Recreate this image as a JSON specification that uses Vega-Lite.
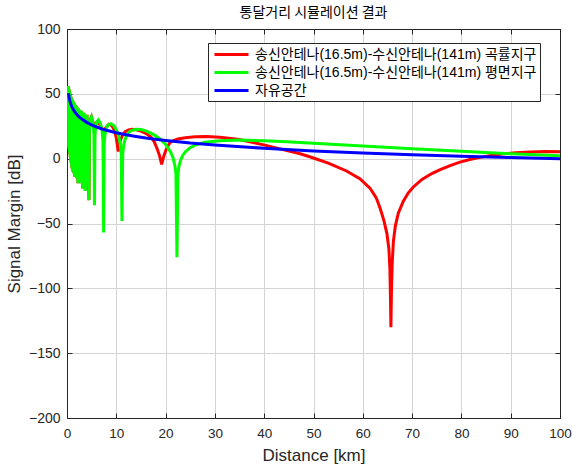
{
  "$schema": "https://vega.github.io/schema/vega-lite/v6.json",
  "width": 493,
  "height": 389,
  "autosize": "none",
  "padding": {"left": 67, "top": 29, "right": 12, "bottom": 49},
  "title": {"text": "통달거리 시뮬레이션 결과", "fontSize": 14, "fontWeight": "normal", "font": "Noto Sans CJK KR", "color": "#000000", "offset": 2},
  "config": {
    "view": {"stroke": "#262626", "strokeWidth": 1},
    "axis": {"labelFont": "Liberation Sans", "labelColor": "#262626", "labelFlush": false, "titleFont": "Liberation Sans", "titleFontSize": 17, "titleFontWeight": "normal", "titleColor": "#262626", "domainColor": "#262626", "tickColor": "#262626", "gridColor": "#d4d4d4", "gridOpacity": 1, "gridWidth": 1},
    "legend": {"labelFont": "Liberation Sans, Noto Sans CJK KR", "labelFontSize": 14, "labelColor": "#000000", "labelLimit": 500}
  },
  "datasets": {
    "red": [
      {"d":0.27,"v":50},{"d":0.31,"v":56},{"d":0.35,"v":9},{"d":0.39,"v":54},{"d":0.43,"v":7},{"d":0.47,"v":52.5},{"d":0.51,"v":5},{"d":0.55,"v":51},{"d":0.59,"v":3},{"d":0.63,"v":50},{"d":0.67,"v":1},{"d":0.71,"v":49},{"d":0.75,"v":-1},{"d":0.79,"v":48},{"d":0.83,"v":-3},{"d":0.87,"v":47.2},{"d":0.91,"v":-5},{"d":0.95,"v":46.4},{"d":0.99,"v":-7},{"d":1.037,"v":45.7},{"d":1.062,"v":-8},{"d":1.088,"v":45.3},{"d":1.115,"v":-9},{"d":1.144,"v":44.8},{"d":1.174,"v":-9},{"d":1.206,"v":44.4},{"d":1.239,"v":-10},{"d":1.274,"v":43.9},{"d":1.312,"v":-10},{"d":1.352,"v":43.4},{"d":1.394,"v":-11},{"d":1.439,"v":42.8},{"d":1.487,"v":-12},{"d":1.538,"v":42.3},{"d":1.593,"v":-14},{"d":1.652,"v":41.6},{"d":1.715,"v":-13},{"d":1.784,"v":41},{"d":1.858,"v":-14},{"d":1.939,"v":40.3},{"d":2.027,"v":-15},{"d":2.124,"v":39.5},{"d":2.23,"v":-19},{"d":2.347,"v":38.6},{"d":2.478,"v":-17},{"d":2.624,"v":37.6},{"d":2.788,"v":-19},{"d":2.973,"v":36.5},{"d":3.186,"v":-23},{"d":3.431,"v":35.3},{"d":3.717,"v":-25},{"d":4.055,"v":33.9},{"d":4.46,"v":-32},{"d":4.55,"v":22.6},{"d":4.7,"v":29.7},{"d":4.96,"v":32.1},{"d":5.3,"v":27.2},
      {"d":5.6,"v":27},{"d":6.0,"v":28},{"d":6.6,"v":26.5},{"d":7.1,"v":23},{"d":7.4,"v":21},{"d":7.8,"v":23.5},{"d":8.5,"v":26.5},{"d":9.1,"v":25.5},{"d":9.6,"v":22},{"d":10.0,"v":16},{"d":10.4,"v":5.5},{"d":10.8,"v":14},{"d":11.3,"v":18.5},{"d":11.8,"v":20.8},{"d":12.5,"v":22.2},{"d":13.2,"v":22.6},{"d":14.0,"v":22.3},{"d":15.0,"v":21.3},{"d":16.0,"v":19.5},{"d":17.0,"v":16.8},{"d":17.7,"v":13},{"d":18.3,"v":7.5},{"d":18.8,"v":2},{"d":19.2,"v":-4.5},{"d":19.6,"v":1.5},{"d":20.1,"v":7},{"d":20.5,"v":10},{"d":20.9,"v":12.5},{"d":21.6,"v":14},{"d":22.5,"v":15.2},{"d":24,"v":16.2},{"d":26,"v":16.9},{"d":28.3,"v":17},{"d":31,"v":16.5},{"d":35,"v":14.8},{"d":38,"v":12.3},{"d":41.2,"v":9.5},{"d":44,"v":6.8},{"d":47.3,"v":3.8},{"d":50,"v":0.5},{"d":53,"v":-3.5},{"d":56.7,"v":-9.5},{"d":59.4,"v":-15.5},{"d":61.5,"v":-23},{"d":62.7,"v":-30},{"d":63.5,"v":-38},{"d":64.3,"v":-48},{"d":64.9,"v":-58},{"d":65.3,"v":-70},{"d":65.5,"v":-85},{"d":65.6,"v":-105},{"d":65.7,"v":-130},{"d":65.8,"v":-105},{"d":65.95,"v":-82},{"d":66.2,"v":-64},{"d":66.6,"v":-52},{"d":67.2,"v":-42},{"d":68.2,"v":-33},{"d":69.2,"v":-26.5},{"d":70.2,"v":-22},{"d":72,"v":-16},{"d":74,"v":-11.5},{"d":75.7,"v":-8.5},{"d":77.7,"v":-5.3},{"d":79.7,"v":-2.7},{"d":81.7,"v":-0.7},{"d":83.8,"v":1},{"d":86,"v":2.5},{"d":88.5,"v":3.7},{"d":91,"v":4.6},{"d":93.9,"v":5.2},{"d":97,"v":5.5},{"d":100,"v":5.3}
    ],
    "green": [
      {"d":0.27,"v":50},{"d":0.31,"v":56},{"d":0.35,"v":9},{"d":0.39,"v":54},{"d":0.43,"v":7},{"d":0.47,"v":52.5},{"d":0.51,"v":5},{"d":0.55,"v":51},{"d":0.59,"v":3},{"d":0.63,"v":50},{"d":0.67,"v":1},{"d":0.71,"v":49},{"d":0.75,"v":-1},{"d":0.79,"v":48},{"d":0.83,"v":-3},{"d":0.87,"v":47.2},{"d":0.91,"v":-5},{"d":0.95,"v":46.4},{"d":0.99,"v":-7},{"d":1.037,"v":45.7},{"d":1.062,"v":-8},{"d":1.088,"v":45.3},{"d":1.115,"v":-9},{"d":1.144,"v":44.8},{"d":1.174,"v":-9},{"d":1.206,"v":44.4},{"d":1.239,"v":-10},{"d":1.274,"v":43.9},{"d":1.312,"v":-10},{"d":1.352,"v":43.4},{"d":1.394,"v":-11},{"d":1.439,"v":42.8},{"d":1.487,"v":-12},{"d":1.538,"v":42.3},{"d":1.593,"v":-14},{"d":1.652,"v":41.6},{"d":1.715,"v":-13},{"d":1.784,"v":41},{"d":1.858,"v":-14},{"d":1.939,"v":40.3},{"d":2.027,"v":-15},{"d":2.124,"v":39.5},{"d":2.23,"v":-19},{"d":2.347,"v":38.6},{"d":2.478,"v":-17},{"d":2.624,"v":37.6},{"d":2.788,"v":-19},{"d":2.973,"v":36.5},{"d":3.186,"v":-23},{"d":3.431,"v":35.3},{"d":3.717,"v":-25},{"d":4.055,"v":33.9},{"d":4.46,"v":-32},{"d":4.55,"v":22.6},{"d":4.7,"v":29.7},{"d":4.96,"v":32.1},{"d":5.3,"v":27.2},
      {"d":5.47,"v":18.8},{"d":5.575,"v":-36},{"d":5.68,"v":18.2},{"d":5.8,"v":24.2},{"d":6.0,"v":28.3},{"d":6.37,"v":29.9},{"d":6.8,"v":27},{"d":7.1,"v":21.7},{"d":7.3,"v":13.4},{"d":7.43,"v":-57},{"d":7.55,"v":11.7},{"d":7.7,"v":18.5},{"d":8.0,"v":23.8},{"d":8.3,"v":26},{"d":8.9,"v":27},{"d":9.5,"v":25.5},{"d":10.0,"v":22.4},{"d":10.5,"v":17.1},{"d":10.8,"v":11.4},{"d":11.0,"v":3.8},{"d":11.15,"v":-48},{"d":11.3,"v":3.3},{"d":11.5,"v":10.4},{"d":11.7,"v":13.9},{"d":12.0,"v":17.1},{"d":12.5,"v":20.1},{"d":13,"v":21.6},{"d":14,"v":22.7},{"d":15,"v":22.5},{"d":16,"v":21.4},{"d":17,"v":19.8},{"d":18,"v":17.6},{"d":19,"v":14.8},{"d":20,"v":11},{"d":21,"v":5.3},{"d":21.5,"v":0.7},{"d":21.9,"v":-5.6},{"d":22.1,"v":-11.8},{"d":22.3,"v":-76},{"d":22.5,"v":-12.1},{"d":22.7,"v":-6.2},{"d":23,"v":-1.6},{"d":23.5,"v":2.7},{"d":24,"v":5.3},{"d":25,"v":8.5},{"d":26,"v":10.5},{"d":28,"v":12.6},{"d":31,"v":13.9},{"d":35,"v":14.3},{"d":40,"v":13.8},{"d":44.6,"v":13},{"d":50,"v":11.9},{"d":60,"v":9.7},{"d":70,"v":7.6},{"d":80,"v":5.7},{"d":90,"v":3.85},{"d":100,"v":2.2}
    ],
    "blue": [
      {"d":0.3,"v":50.5},{"d":0.4,"v":48},{"d":0.5,"v":46},{"d":0.6,"v":44.4},{"d":0.7,"v":43.1},{"d":0.85,"v":41.4},{"d":1,"v":40},{"d":1.25,"v":38.1},{"d":1.5,"v":36.5},{"d":2,"v":34},{"d":2.5,"v":32},{"d":3,"v":30.5},{"d":4,"v":28},{"d":5,"v":26},{"d":6,"v":24.4},{"d":7,"v":23.1},{"d":8,"v":21.9},{"d":10,"v":20},{"d":12,"v":18.4},{"d":14,"v":17.1},{"d":16,"v":15.9},{"d":20,"v":14},{"d":25,"v":12},{"d":30,"v":10.5},{"d":40,"v":8},{"d":50,"v":6},{"d":60,"v":4.4},{"d":70,"v":3.1},{"d":80,"v":1.9},{"d":90,"v":0.9},{"d":100,"v":0}
    ]
  },
  "layer": [
    {
      "data": {"name": "red"},
      "mark": {"type": "line", "strokeWidth": 3, "clip": true},
      "encoding": {
        "x": {"field": "d", "type": "quantitative", "scale": {"domain": [0, 100], "nice": false}, "axis": {"values": [0,10,20,30,40,50,60,70,80,90,100], "title": "Distance [km]", "labelFontSize": 13.5, "tickSize": -5, "labelPadding": 13, "titlePadding": 8, "grid": true}},
        "y": {"field": "v", "type": "quantitative", "scale": {"domain": [-200, 100], "nice": false}, "axis": {"values": [-200,-150,-100,-50,0,50,100], "title": "Signal Margin [dB]", "labelFontSize": 14, "tickSize": -5, "labelPadding": 12, "titlePadding": 5, "grid": true}},
        "color": {"datum": "송신안테나(16.5m)-수신안테나(141m) 곡률지구", "type": "nominal",
          "scale": {"domain": ["송신안테나(16.5m)-수신안테나(141m) 곡률지구", "송신안테나(16.5m)-수신안테나(141m) 평면지구", "자유공간"], "range": ["#ff0000", "#00ff00", "#0000ff"]},
          "legend": {"orient": "none", "legendX": 141, "legendY": 14, "title": null, "symbolType": "M-0.714,0H4.143", "symbolStrokeWidth": 3, "symbolSize": 196, "strokeColor": "#262626", "fillColor": "#ffffff", "padding": 3, "rowPadding": 2, "labelOffset": 27, "cornerRadius": 0}}
      }
    },
    {
      "data": {"name": "green"},
      "mark": {"type": "line", "strokeWidth": 3, "clip": true},
      "encoding": {
        "x": {"field": "d", "type": "quantitative", "axis": {"orient": "top", "values": [0,10,20,30,40,50,60,70,80,90,100], "labels": false, "title": null, "grid": false, "tickSize": -5}},
        "y": {"field": "v", "type": "quantitative", "axis": {"orient": "right", "values": [-200,-150,-100,-50,0,50,100], "labels": false, "title": null, "grid": false, "tickSize": -5}},
        "color": {"datum": "송신안테나(16.5m)-수신안테나(141m) 평면지구", "type": "nominal"}
      }
    },
    {
      "data": {"name": "blue"},
      "mark": {"type": "line", "strokeWidth": 3, "clip": true},
      "encoding": {
        "x": {"field": "d", "type": "quantitative", "axis": null},
        "y": {"field": "v", "type": "quantitative", "axis": null},
        "color": {"datum": "자유공간", "type": "nominal"}
      }
    }
  ],
  "resolve": {"axis": {"x": "independent", "y": "independent"}}
}
